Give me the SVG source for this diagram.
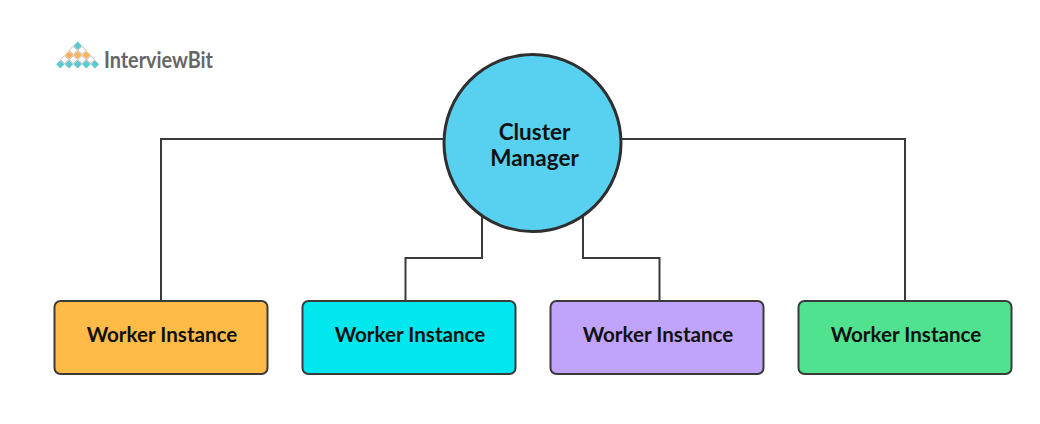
<svg xmlns="http://www.w3.org/2000/svg" width="1040" height="424" viewBox="0 0 1040 424">
<style>
.box{stroke:#3a3a3a;stroke-width:2}
.wire{fill:none;stroke:#3a3a3a;stroke-width:2}
.t{font-family:Lato,"Noto Sans",sans-serif;font-weight:700;font-size:20.600px;fill:#111;text-anchor:middle}
.c{font-size:22.500px}
.logo{font-family:Lato,"Noto Sans",sans-serif;font-size:23px;fill:#666;font-weight:700}
.tl{fill:#5cc8cf}
.or{fill:#f9b35c}
.wh{fill:#fff;stroke:#a8a8a8;stroke-width:.8}
</style>
<defs><path id="d" d="M0-4.100 4.100 0 0 4.100-4.100 0Z"/></defs>
<rect width="1040" height="424" fill="#fff"/>
<g id="connectors">
<path class="wire" d="M445 139H161V301"/>
<path class="wire" d="M621 139H905V301"/>
<path class="wire" d="M482 215V258H405.500V301"/>
<path class="wire" d="M583 215V258H659.500V301"/>
</g>
<g id="logo">
<use href="#d" class="wh" x="73.300" y="50.300"/><use href="#d" class="wh" x="82" y="50.300"/>
<use href="#d" class="wh" x="64.700" y="59.700"/><use href="#d" class="wh" x="73.300" y="59.700"/><use href="#d" class="wh" x="82" y="59.700"/><use href="#d" class="wh" x="90.700" y="59.700"/>
<use href="#d" class="tl" x="77.700" y="45.700"/>
<use href="#d" class="or" x="69" y="55"/><use href="#d" class="or" x="77.700" y="55"/><use href="#d" class="or" x="86.300" y="55"/>
<use href="#d" class="tl" x="60.300" y="64.300"/><use href="#d" class="tl" x="69" y="64.300"/><use href="#d" class="tl" x="77.700" y="64.300"/><use href="#d" class="tl" x="86.300" y="64.300"/><use href="#d" class="tl" x="95" y="64.300"/>
<text class="logo" x="104" y="68" textLength="109" lengthAdjust="spacingAndGlyphs">InterviewBit</text>
</g>
<g id="cluster-manager">
<circle cx="532.500" cy="143" r="88.500" fill="#58d0ef" stroke="#2f2f2f" stroke-width="3"/>
<text class="t c" x="534.500" y="139.500">Cluster</text>
<text class="t c" x="534.500" y="165.500">Manager</text>
</g>
<g id="worker-1"><rect class="box" x="54.500" y="301" width="213" height="73" rx="6" fill="#ffbb47"/><text class="t" x="162" y="342">Worker Instance</text></g>
<g id="worker-2"><rect class="box" x="302.500" y="301" width="213" height="73" rx="6" fill="#00e8ee"/><text class="t" x="410" y="342">Worker Instance</text></g>
<g id="worker-3"><rect class="box" x="550.500" y="301" width="213" height="73" rx="6" fill="#c0a4fb"/><text class="t" x="658" y="342">Worker Instance</text></g>
<g id="worker-4"><rect class="box" x="798.500" y="301" width="213" height="73" rx="6" fill="#50e28e"/><text class="t" x="906" y="342">Worker Instance</text></g>
</svg>
